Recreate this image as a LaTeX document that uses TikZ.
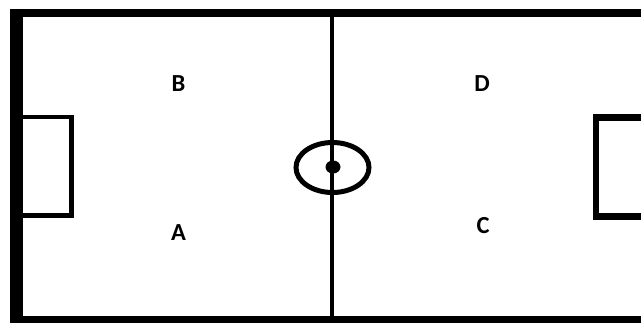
\documentclass[tikz,border=0pt]{standalone}
\usepackage{fontspec}
\setmainfont{Carlito}
\begin{document}
\begin{tikzpicture}[x=1pt,y=-1pt,
  fieldline/.style={draw=black,line cap=butt},
  lbl/.style={font=\bfseries\fontsize{24.5}{28}\selectfont,inner sep=0pt}]
\useasboundingbox (0,0) rectangle (641,322);
\clip (0,0) rectangle (641,322);
\fill[white] (0,0) rectangle (641,322);
% outer boundary
\draw[fieldline,line width=8.5] (10,12.8) -- (660,12.8);
\draw[fieldline,line width=8] (10,320) -- (660,320);
\draw[fieldline,line width=12.5] (16.5,8.5) -- (16.5,330);
% left goal box
\draw[fieldline,line width=4.5] (22,117) -- (71.5,117) -- (71.5,215.5) -- (22,215.5);
% right goal box
\draw[fieldline,line width=6.5] (660,117.5) -- (596,117.5) -- (596,216.5) -- (660,216.5);
% halfway line
\draw[fieldline,line width=4.5] (332,12) -- (332,320);
% centre circle and spot
\draw[line width=5] (332.5,167.5) ellipse [x radius=36.5, y radius=25];
\fill (333,167) ellipse [x radius=7.5, y radius=6.5];
% labels
\node[lbl] (B) at (178.5,83.5) {B};
\node[lbl] (A) at (178.5,232.5) {A};
\node[lbl] (D) at (482,84) {D};
\node[lbl] (C) at (483,225.5) {C};
\end{tikzpicture}
\end{document}
